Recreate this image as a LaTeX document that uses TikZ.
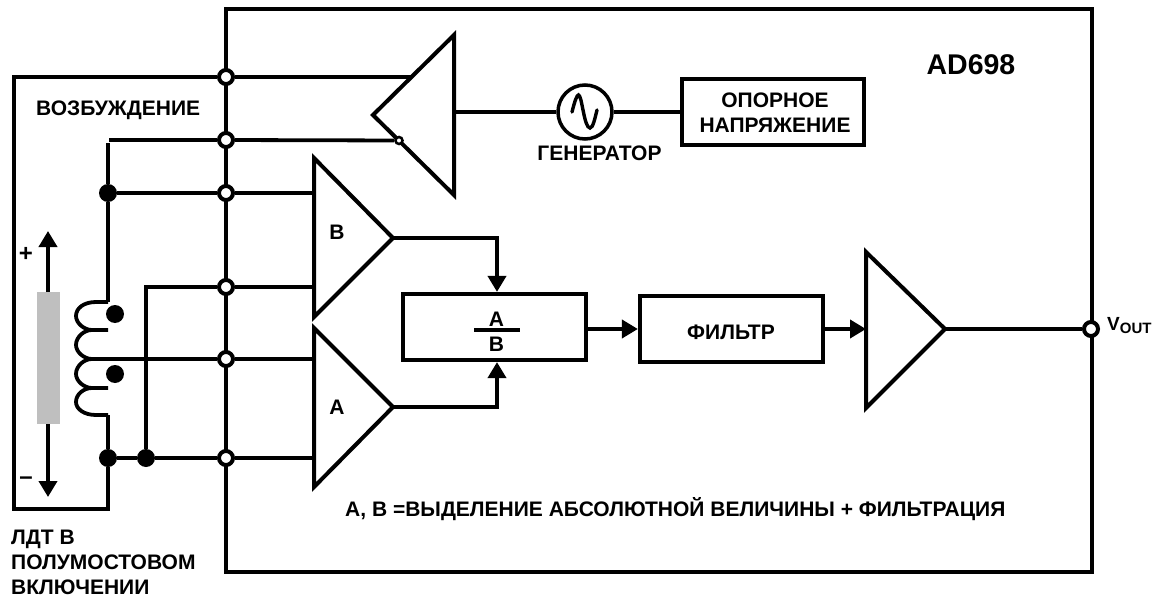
\documentclass[tikz,border=0pt]{standalone}
\usepackage{fontspec}
\setmainfont{Liberation Sans}
\usetikzlibrary{arrows.meta}
\tikzset{
  lbl/.style={font=\bfseries\fontsize{21}{25}\selectfont, inner sep=0pt, text=black},
  big sign/.style={lbl, font=\bfseries\fontsize{24}{24}\selectfont},
  wire/.style={line width=3.8pt, line join=miter},
  arr/.style={line width=3.8pt, -{Triangle[length=16pt,width=18pt]}},
  thick box/.style={draw, line width=4.2pt, fill=white, inner sep=0pt, lbl},
  amp/.style={draw, line width=4pt, fill=white, line join=miter},
  pin/.style={circle, draw, line width=4pt, fill=white, minimum size=14pt, inner sep=0pt},
  dot/.style={circle, fill=black, minimum size=18pt, inner sep=0pt},
  bubble/.style={circle, draw, line width=2.5pt, fill=white, minimum size=7pt, inner sep=0pt}
}
\begin{document}
\begin{tikzpicture}[x=1pt,y=-1pt]
\useasboundingbox (0,0) rectangle (1165,599);
% chip outline
\draw[line width=4.2pt] (226,9) rectangle (1092,572);
% pins on the chip edge
\node[pin] (p1) at (226,77) {};
\node[pin] (p2) at (226,140) {};
\node[pin] (p3) at (226,193) {};
\node[pin] (p4) at (226,287) {};
\node[pin] (p5) at (226,359) {};
\node[pin] (p6) at (226,458) {};
\node[pin] (pout) at (1091,329) {};
% amplifiers
\draw[amp] (454,35) -- (373,115) -- (454,195) -- cycle;
\draw[amp] (314,158) -- (393,238) -- (314,317) -- cycle;
\draw[amp] (314,328) -- (393,407) -- (314,487) -- cycle;
\draw[amp] (866,252) -- (945,329) -- (866,408) -- cycle;
\coordinate (dT) at (454,112);
\coordinate (bOut) at (393,238);
\coordinate (aOut) at (393,407);
\coordinate (bin1) at (314,193);
\coordinate (bin2) at (314,287);
\coordinate (ain1) at (314,359);
\coordinate (ain2) at (314,458);
\coordinate (dIn) at (412,77);
\coordinate (gIn) at (866,329);
\coordinate (gOut) at (945,329);
\coordinate (ll1) at (14,77);
\coordinate (ll2) at (14,509);
\coordinate (ll3) at (108,509);
\coordinate (ctop) at (108,302);
\coordinate (cbot) at (108,415);
\coordinate (cmid) at (109,359);
\coordinate (tcorner) at (108,143);
\coordinate (tstart) at (109,140);
\coordinate (xcorner) at (146,287);
% blocks
\node[thick box, minimum width=183pt, minimum height=66pt] (ratio) at (494.5,327) {};
\node[thick box, minimum width=183pt, minimum height=66pt] (filter) at (731.5,329) {};
\node[thick box, minimum width=182pt, minimum height=66pt] (ref) at (773,112) {};
\node[circle, draw, line width=3.5pt, fill=white, minimum size=54pt, inner sep=0pt] (gen) at (585,112) {};
\node[bubble] (inv) at (399,140.5) {};
% junction dots
\node[dot] (d1) at (108,193) {};
\node[dot] (d2) at (108,458) {};
\node[dot] (d3) at (146,458) {};
\node[dot] (m1) at (115,314) {};
\node[dot] (m2) at (115,374) {};
% wires
\draw[wire] (p1) -- (dIn);
\draw[wire] (p1) -- (ll1) -- (ll2) -- (ll3) -- (d2);
\draw[wire] (p2) -- (tstart);
\draw[wire] (p2) -- (inv);
\draw[wire] (tcorner) -- (d1);
\draw[wire] (d1) -- (ctop);
\draw[wire] (d1) -- (p3);
\draw[wire] (p3) -- (bin1);
\draw[wire] (p4) -- (bin2);
\draw[wire] (p4) -- (xcorner) -- (d3);
\draw[wire] (p5) -- (ain1);
\draw[wire] (p5) -- (cmid);
\draw[wire] (p6) -- (ain2);
\draw[wire] (p6) -- (d3);
\draw[wire] (d3) -- (d2);
\draw[wire] (d2) -- (cbot);
\draw[wire] (dT) -- (gen);
\draw[wire] (gen) -- (ref);
\draw[arr] (bOut) -| ([xshift=2.5pt]ratio.north);
\draw[arr] (aOut) -| ([xshift=2.5pt]ratio.south);
\draw[arr] (ratio.east |- filter.west) -- (filter.west);
\draw[arr] (filter.east) -- (gIn);
\draw[wire] (gOut) -- (pout);
% coil
\draw[wire, line join=round] (ctop) -- (96,302)
  .. controls (84,302) and (76,308) .. (76,316)
  .. controls (76,323) and (84,330) .. (92,330) -- (108,330);
\draw[wire, line join=round] (92,330)
  .. controls (84,330) and (76,337) .. (76,345)
  .. controls (76,352) and (84,359) .. (92,359) -- (cmid);
\draw[wire, line join=round] (92,359)
  .. controls (84,359) and (76,366) .. (76,374)
  .. controls (76,381) and (84,388) .. (92,388) -- (108,388);
\draw[wire, line join=round] (92,388)
  .. controls (84,388) and (76,394) .. (76,402)
  .. controls (76,409) and (84,415) .. (96,415) -- (cbot);
% core and travel arrows
\fill[fill=black!25] (37,292) rectangle (60,424);
\coordinate (coreT) at (48,292);
\coordinate (coreB) at (48,424);
\coordinate (arT) at (48,231);
\coordinate (arB) at (48,497);
\draw[arr] (coreT) -- (arT);
\draw[arr] (coreB) -- (arB);
% sine in generator
\draw[line width=3.4pt, line cap=round] (572,112) .. controls (575,100) and (577,95) .. (578.5,95)
  .. controls (582,95) and (584,128) .. (590,128)
  .. controls (593,128) and (595,118) .. (597,110);
% fraction
\draw[line width=3.5pt] (474,330) -- (520,330);
% labels
\node[lbl] (tA) at (496.5,319) {A};
\node[lbl] (tB) at (496.5,344) {B};
\node[lbl] (tFilter) at (731,332) {ФИЛЬТР};
\node[lbl, align=center] (tRef) at (775,112.5) {ОПОРНОЕ\\НАПРЯЖЕНИЕ};
\node[lbl] (tAmpB) at (337,232) {B};
\node[lbl] (tAmpA) at (337,407) {A};
\node[lbl] (tGen) at (599.5,153) {ГЕНЕРАТОР};
\node[lbl, font=\bfseries\fontsize{28.5}{28}\selectfont] (tChip) at (971,65) {AD698};
\node[lbl, anchor=west] (tExc) at (36,110) {ВОЗБУЖДЕНИЕ};
\node[lbl, anchor=west, align=left] (tLdt) at (11,562) {ЛДТ В\\ПОЛУМОСТОВОМ\\ВКЛЮЧЕНИИ};
\node[lbl, anchor=west] (tCap) at (345,509) {А, В =ВЫДЕЛЕНИЕ АБСОЛЮТНОЙ ВЕЛИЧИНЫ + ФИЛЬТРАЦИЯ};
\node[big sign] (tPlus) at (26,254) {+};
\node[big sign] (tMinus) at (26,481) {–};
\node[lbl, anchor=west, font=\bfseries\fontsize{19}{19}\selectfont] (tOut) at (1107,326) {V\raisebox{-3pt}{\fontsize{15}{15}\selectfont OUT}};
\end{tikzpicture}
\end{document}
